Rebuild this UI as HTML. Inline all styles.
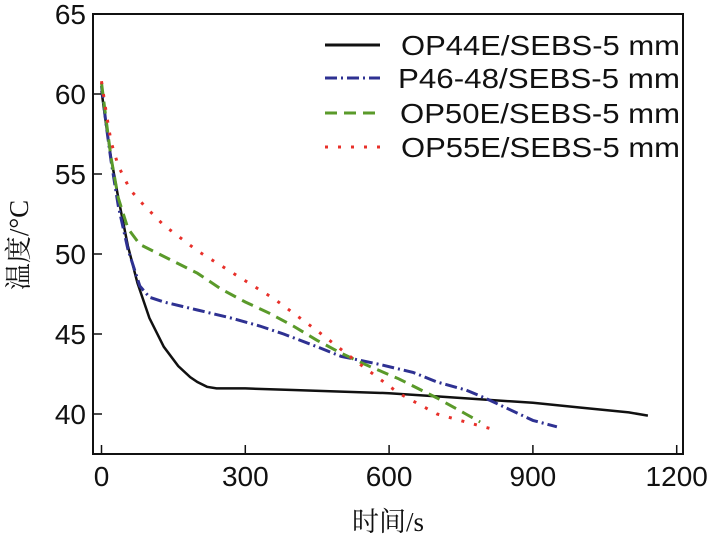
<!DOCTYPE html>
<html><head><meta charset="utf-8"><style>
body{margin:0;background:#fff;}
svg text{font-family:"Liberation Sans","Noto Sans CJK SC",sans-serif;fill:#111;}
svg text.ttl{font-family:"Liberation Serif","Noto Serif CJK SC",serif;}
</style></head><body>
<svg id="c" width="708" height="540" viewBox="0 0 708 540" xmlns="http://www.w3.org/2000/svg"></svg>
<script>
const xTicks=[0,300,600,900,1200];
const yTicks=[40,45,50,55,60,65];
const seriesNames=["OP44E/SEBS-5 mm","P46-48/SEBS-5 mm","OP50E/SEBS-5 mm","OP55E/SEBS-5 mm"];
const tOP44=[0,10,20,35,55,75,100,130,160,185,200,220,240,300,400,500,600,700,800,900,1000,1100,1140];
const vOP44=[60.2,58,56,53.5,50.5,48.2,46,44.2,43,42.3,42,41.7,41.6,41.6,41.5,41.4,41.3,41.1,40.9,40.7,40.4,40.1,39.9];
const tP46=[0,10,20,35,55,80,100,130,200,270,330,380,450,500,580,650,700,760,800,850,900,950];
const vP46=[60.5,58,55.8,53,50.3,48,47.3,47,46.5,46,45.5,45,44.2,43.6,43.1,42.6,42,41.5,41,40.3,39.6,39.2];
const tOP50=[0,10,20,35,55,80,120,200,250,300,350,400,450,500,550,620,700,760,790];
const vOP50=[60.7,58.3,56,53.5,51.6,50.6,50,48.8,47.8,47,46.3,45.5,44.6,43.8,43.1,42.2,41,40,39.5];
const tOP55=[0,10,20,35,60,90,130,200,280,360,450,540,620,700,760,810];
const vOP55=[60.8,58.8,57,55.5,54,53,51.8,50.2,48.7,47.2,45.2,43.1,41.3,40,39.5,39.1];
const colors=["#111111","#2e3192","#5a9a2a","#e8302a"];
const dashes=["","12,4,2,4","12,7","3,10"];
const L=93,T=14,R=683,B=454;
const X=t=>101.5+t*(143.8/300);
const Y=v=>14+(65-v)*16;
const svg=document.getElementById('c');
const NS="http://www.w3.org/2000/svg";
function mk(tag,attrs,txt){const e=document.createElementNS(NS,tag);for(const k in attrs)e.setAttribute(k,attrs[k]);if(txt!==undefined)e.textContent=txt;svg.appendChild(e);return e;}
const frame=mk('rect',{x:L,y:T,width:R-L,height:B-T,fill:'none',stroke:'#111','stroke-width':2});


xTicks.forEach(t=>{
 const l=mk('line',{x1:X(t),x2:X(t),y1:B,y2:B-9,stroke:'#111','stroke-width':1.5});
 
 
 const tx=mk('text',{x:X(t),y:B+32,'font-size':28,'text-anchor':'middle'},String(t));
 
 
});
yTicks.forEach(v=>{
 const l=mk('line',{x1:L,x2:L+9,y1:Y(v),y2:Y(v),stroke:'#111','stroke-width':1.5});
 
 
 const tx=mk('text',{x:L-7,y:Y(v)+10,'font-size':28,'text-anchor':'end'},String(v));
 
 
});
const xt=mk('text',{x:388,y:531,'font-size':27,'text-anchor':'middle','class':'ttl'},'时间/s');


const yt=mk('text',{x:0,y:0,'font-size':27,'text-anchor':'middle','class':'ttl',transform:'translate(28,245) rotate(-90)'},'温度/°C');


const data=[[tOP44,vOP44],[tP46,vP46],[tOP50,vOP50],[tOP55,vOP55]];
const names=['series-op44e','series-p46-48','series-op50e','series-op55e'];
data.forEach((d,i)=>{
 const pts=d[0].map((t,j)=>X(t).toFixed(1)+','+Y(d[1][j]).toFixed(1)).join(' ');
 const p=mk('polyline',{points:pts,fill:'none',stroke:colors[i],'stroke-width':i==0?2.5:3,'stroke-dasharray':dashes[i],'stroke-linecap':'butt'});
 
 
});
const ly=[45,78,113,147];
const lx=[401,398,400,401];
seriesNames.forEach((n,i)=>{
 const l=mk('line',{x1:325,x2:380,y1:ly[i],y2:ly[i],stroke:colors[i],'stroke-width':3,'stroke-dasharray':dashes[i]});
 
 
 const t=mk('text',{x:lx[i],y:ly[i]+10,'font-size':28,textLength:680-lx[i],lengthAdjust:'spacingAndGlyphs'},n);
 
 
});
</script>
</body></html>
